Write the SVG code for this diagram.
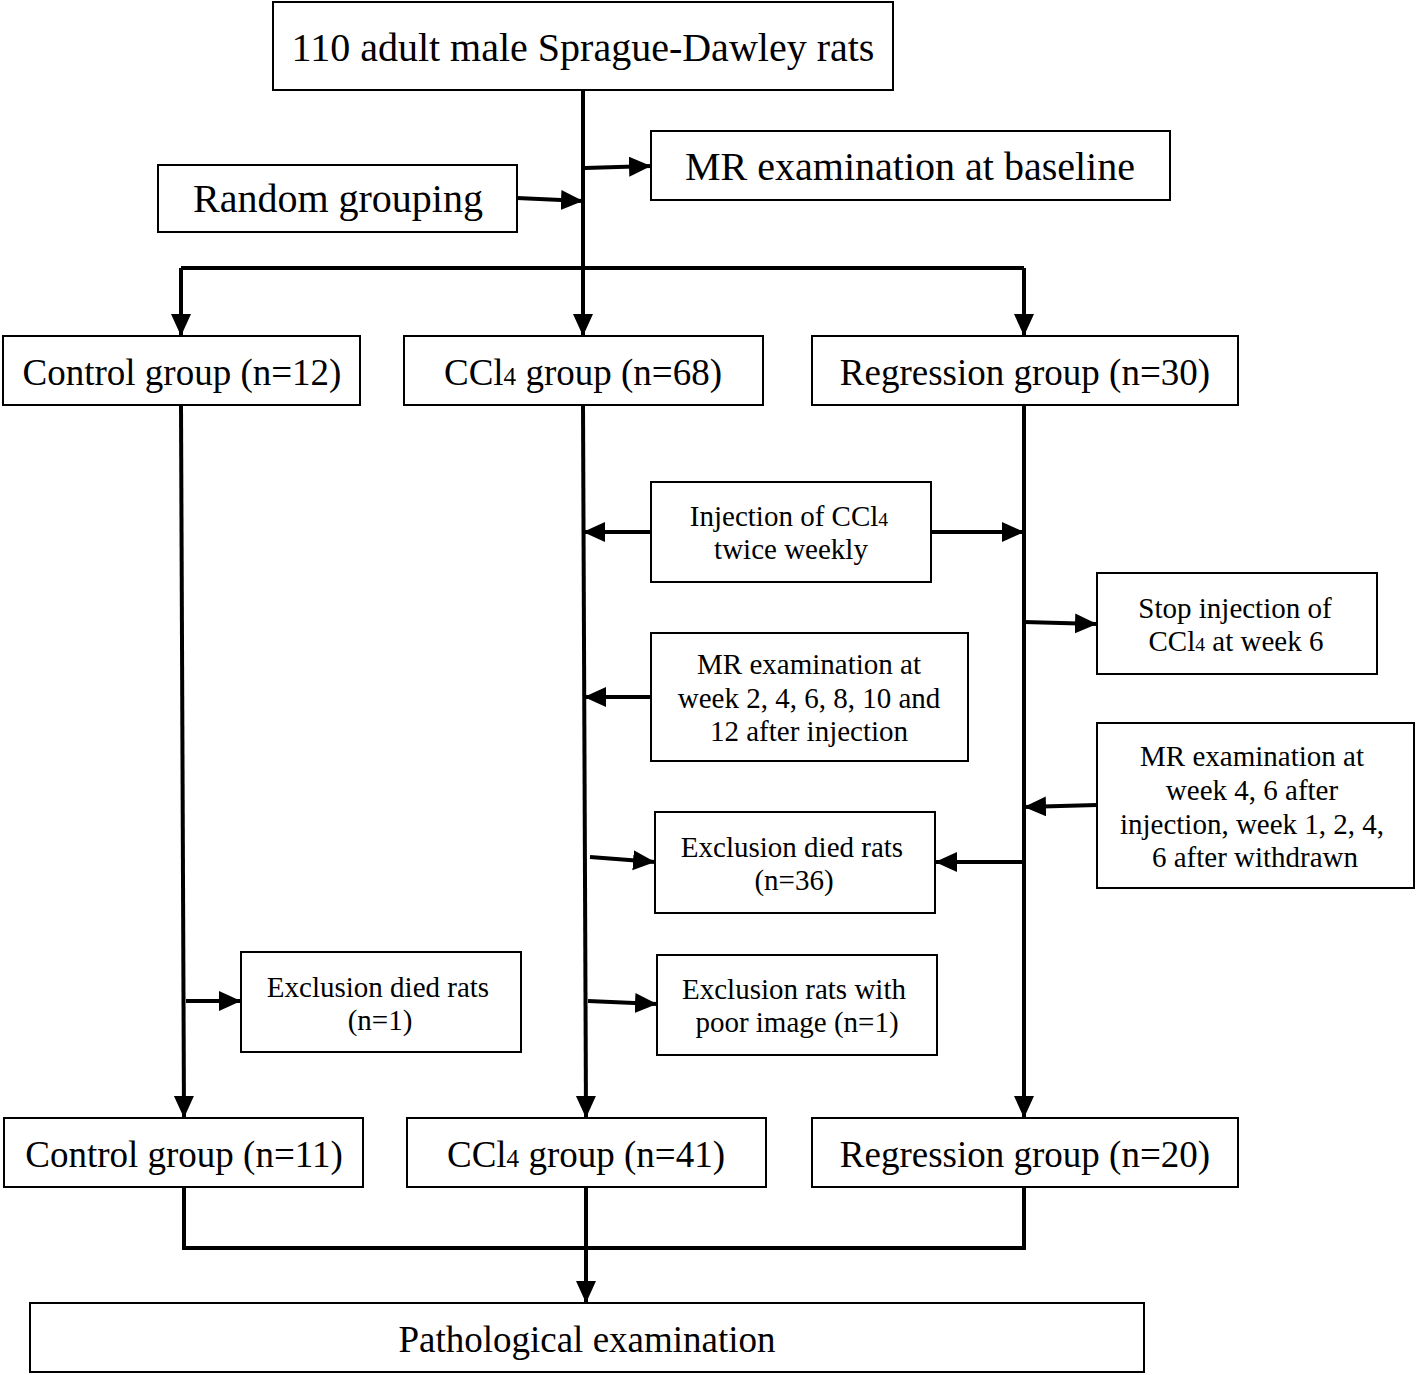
<svg xmlns="http://www.w3.org/2000/svg" width="1417" height="1375" viewBox="0 0 1417 1375">
<style>
rect{fill:#fff;stroke:#000;stroke-width:2}
rect.bg{stroke:none}
text{font-family:"Liberation Serif","Times New Roman",serif;fill:#000;text-anchor:middle}
.big{font-size:40px}
.mid{font-size:37px}
.sm{font-size:29px}
.sub{font-size:0.68em}
#connectors path{fill:none;stroke:#000;stroke-width:4;marker-end:url(#ah)}
#connectors path.plain{marker-end:none}
</style>
<defs>
<marker id="ah" markerUnits="userSpaceOnUse" markerWidth="24" markerHeight="22" refX="22" refY="10" orient="auto" viewBox="0 0 24 22">
<path d="M0,0 L22,10 L0,20 Z" fill="#000"/>
</marker>
</defs>
<rect class="bg" width="1417" height="1375"/>
<g id="connectors">
<path class="plain" d="M583,90 L583,268"/>
<path class="plain" d="M181,268 L1024,268"/>
<path d="M181,268 L181,336"/>
<path d="M583,268 L583,336"/>
<path d="M1024,268 L1024,336"/>
<path d="M585,168 L651,166"/>
<path d="M517,198 L583,201"/>
<path d="M181,405 L184,1118"/>
<path d="M583,405 L586,1118"/>
<path d="M1024,405 L1024,1118"/>
<path d="M651,532 L583,532"/>
<path d="M931,532 L1024,532"/>
<path d="M1024,622 L1097,624"/>
<path d="M651,697 L584,697"/>
<path d="M1097,805 L1024,807"/>
<path d="M590,857 L655,862"/>
<path d="M1024,862 L935,862"/>
<path d="M186,1001 L241,1001"/>
<path d="M588,1001 L657,1004"/>
<path class="plain" d="M184,1187 L184,1248 L1024,1248 L1024,1187"/>
<path d="M586,1187 L586,1303"/>
</g>
<g id="n_rats"><rect x="273" y="2" width="620" height="88"/><text class="big" x="583" y="61">110 adult male Sprague-Dawley rats</text></g>
<g id="n_mrbase"><rect x="651" y="131" width="519" height="69"/><text class="big" x="910" y="180">MR examination at baseline</text></g>
<g id="n_random"><rect x="158" y="165" width="359" height="67"/><text class="big" x="338" y="212">Random grouping</text></g>
<g id="n_control12"><rect x="3" y="336" width="357" height="69"/><text class="mid" x="182" y="385">Control group (n=12)</text></g>
<g id="n_ccl68"><rect x="404" y="336" width="359" height="69"/><text class="mid" x="583" y="385">CCl<tspan class="sub">4</tspan> group (n=68)</text></g>
<g id="n_reg30"><rect x="812" y="336" width="426" height="69"/><text class="mid" x="1025" y="385">Regression group (n=30)</text></g>
<g id="n_inject"><rect x="651" y="482" width="280" height="100"/><text class="sm" x="789" y="526">Injection of CCl<tspan class="sub">4</tspan></text><text class="sm" x="791" y="559">twice weekly</text></g>
<g id="n_stop"><rect x="1097" y="573" width="280" height="101"/><text class="sm" x="1235" y="618">Stop injection of</text><text class="sm" x="1236" y="651">CCl<tspan class="sub">4</tspan> at week 6</text></g>
<g id="n_mrw2"><rect x="651" y="633" width="317" height="128"/><text class="sm" x="809" y="674">MR examination at</text><text class="sm" x="809" y="708">week 2, 4, 6, 8, 10 and</text><text class="sm" x="809" y="741">12 after injection</text></g>
<g id="n_mrw4"><rect x="1097" y="723" width="317" height="165"/><text class="sm" x="1252" y="766">MR examination at</text><text class="sm" x="1252" y="800">week 4, 6 after</text><text class="sm" x="1252" y="834">injection, week 1, 2, 4,</text><text class="sm" x="1255" y="867">6 after withdrawn</text></g>
<g id="n_excl36"><rect x="655" y="812" width="280" height="101"/><text class="sm" x="792" y="857">Exclusion died rats</text><text class="sm" x="794" y="890">(n=36)</text></g>
<g id="n_excl1"><rect x="241" y="952" width="280" height="100"/><text class="sm" x="378" y="997">Exclusion died rats</text><text class="sm" x="380" y="1030">(n=1)</text></g>
<g id="n_poor"><rect x="657" y="955" width="280" height="100"/><text class="sm" x="794" y="999">Exclusion rats with</text><text class="sm" x="797" y="1032">poor image (n=1)</text></g>
<g id="n_control11"><rect x="4" y="1118" width="359" height="69"/><text class="mid" x="184" y="1167">Control group (n=11)</text></g>
<g id="n_ccl41"><rect x="407" y="1118" width="359" height="69"/><text class="mid" x="586" y="1167">CCl<tspan class="sub">4</tspan> group (n=41)</text></g>
<g id="n_reg20"><rect x="812" y="1118" width="426" height="69"/><text class="mid" x="1025" y="1167">Regression group (n=20)</text></g>
<g id="n_path"><rect x="30" y="1303" width="1114" height="69"/><text class="mid" x="587" y="1352">Pathological examination</text></g>
</svg>
